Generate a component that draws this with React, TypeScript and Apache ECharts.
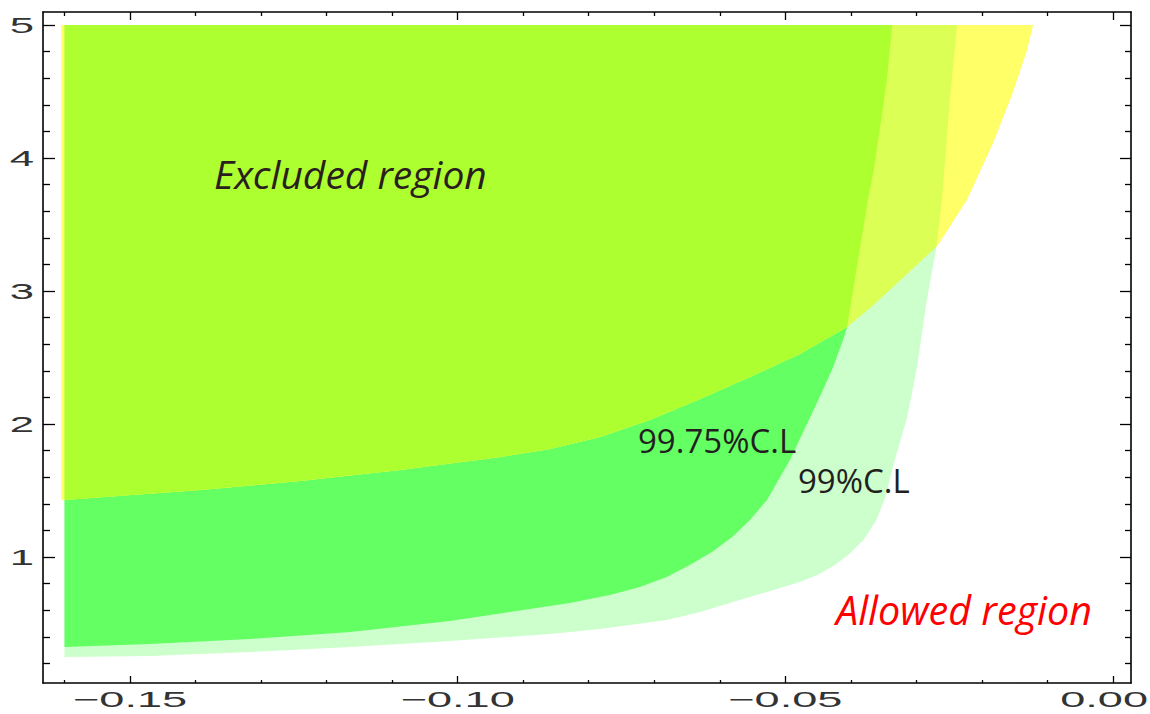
import React, { useEffect, useRef } from "react";
import * as echarts from "echarts";

// axis extents
const X_MIN = -0.16328;
const X_MAX = 0.00275;
const Y_MIN = 0.0526;
const Y_MAX = 5.098;

// ticks
const X_MAJOR = [-0.15, -0.1, -0.05, 0];
const X_TICK_LABELS = ["\u22120.15", "\u22120.10", "\u22120.05", "0.00"];
const X_MINOR = [-0.16, -0.14, -0.13, -0.12, -0.11, -0.09, -0.08, -0.07, -0.06, -0.04, -0.03, -0.02, -0.01];
const Y_MAJOR = [1, 2, 3, 4, 5];
const Y_TICK_LABELS = ["1", "2", "3", "4", "5"];
const Y_MINOR = [0.2, 0.4, 0.6, 0.8, 1.2, 1.4, 1.6, 1.8, 2.2, 2.4, 2.6, 2.8, 3.2, 3.4, 3.6, 3.8, 4.2, 4.4, 4.6, 4.8];

// yellow region: lower boundary (left to right)
const YEL_X = [-0.1605, -0.1393, -0.1241, -0.1088, -0.0935, -0.0859, -0.0783, -0.0707, -0.063, -0.0554, -0.0478, -0.0406, -0.0371, -0.0336, -0.0267, -0.0223, -0.0183, -0.0153, -0.0131, -0.0122];
const YEL_Y = [1.429, 1.504, 1.571, 1.654, 1.752, 1.812, 1.902, 2.03, 2.188, 2.353, 2.526, 2.729, 2.872, 3.03, 3.346, 3.684, 4.113, 4.489, 4.812, 5.0];

// 99.75% C.L. green region boundary (top to bottom-left)
const G9975_X = [-0.0337, -0.0345, -0.0356, -0.0365, -0.0374, -0.0389, -0.0406, -0.0412, -0.0427, -0.0444, -0.0462, -0.0493, -0.0528, -0.0554, -0.0581, -0.0612, -0.0646, -0.0681, -0.0722, -0.0768, -0.0829, -0.089, -0.1012, -0.1164, -0.1317, -0.147, -0.16];
const G9975_Y = [5.0, 4.587, 4.211, 3.91, 3.684, 3.233, 2.722, 2.632, 2.429, 2.241, 2.053, 1.729, 1.429, 1.278, 1.150, 1.038, 0.940, 0.850, 0.774, 0.714, 0.654, 0.609, 0.519, 0.436, 0.384, 0.346, 0.323];

// 99% C.L. green region boundary (top to bottom-left)
const G99_X = [-0.0238, -0.0249, -0.0255, -0.0261, -0.027, -0.0275, -0.0284, -0.0299, -0.0314, -0.0336, -0.0346, -0.0361, -0.0381, -0.0404, -0.0427, -0.0451, -0.0478, -0.0528, -0.058, -0.063, -0.0681, -0.0783, -0.0859, -0.1012, -0.1164, -0.1317, -0.147, -0.16];
const G99_Y = [5.0, 4.436, 4.06, 3.684, 3.308, 3.18, 2.932, 2.429, 2.053, 1.677, 1.466, 1.278, 1.128, 1.015, 0.932, 0.865, 0.812, 0.737, 0.662, 0.586, 0.526, 0.459, 0.421, 0.368, 0.323, 0.286, 0.256, 0.248];

const REGION_LEFT = -0.16;
const REGION_TOP = 5.0;

type Pt = [number, number];
const zip = (xs: number[], ys: number[]): Pt[] => xs.map((x, i) => [x, ys[i]] as Pt);

function segInt(a: Pt, b: Pt, c: Pt, d: Pt): Pt | null {
  const den = (b[0] - a[0]) * (d[1] - c[1]) - (b[1] - a[1]) * (d[0] - c[0]);
  if (den === 0) return null;
  const t = ((c[0] - a[0]) * (d[1] - c[1]) - (c[1] - a[1]) * (d[0] - c[0])) / den;
  const u = ((c[0] - a[0]) * (b[1] - a[1]) - (c[1] - a[1]) * (b[0] - a[0])) / den;
  if (t >= 0 && t <= 1 && u >= 0 && u <= 1) return [a[0] + t * (b[0] - a[0]), a[1] + t * (b[1] - a[1])];
  return null;
}

// polygon of (yellow ∩ green)
function overlap(g: Pt[], y: Pt[]): Pt[] {
  for (let i = 0; i < g.length - 1; i++) {
    for (let j = 0; j < y.length - 1; j++) {
      const p = segInt(g[i], g[i + 1], y[j], y[j + 1]);
      if (p) {
        const pts: Pt[] = [[REGION_LEFT, REGION_TOP]];
        for (let k = 0; k <= i; k++) pts.push(g[k]);
        pts.push(p);
        for (let k = j; k >= 1; k--) pts.push(y[k]);
        pts.push([REGION_LEFT, y[0][1]]);
        return pts;
      }
    }
  }
  return [];
}

export default function App() {
  const ref = useRef<HTMLDivElement>(null);
  useEffect(() => {
    if (!ref.current) return;
    const chart = echarts.init(ref.current, null, { renderer: "svg" });
    const yel = zip(YEL_X, YEL_Y);
    const g1 = zip(G9975_X, G9975_Y);
    const g2 = zip(G99_X, G99_Y);
    const zones = [
      { pts: [...g2, [REGION_LEFT, REGION_TOP] as Pt], color: "#ccffcc" },
      { pts: [...g1, [REGION_LEFT, REGION_TOP] as Pt], color: "#63ff63" },
      { pts: [[yel[0][0], REGION_TOP] as Pt, ...yel], color: "#ffff68" },
      { pts: overlap(g2, yel), color: "#dcff55" },
      { pts: overlap(g1, yel), color: "#aeff30" },
    ];

    const gridRect = { left: 43, right: 19, top: 12, bottom: 31 };
    const lineStyle = { color: "#000", width: 1.6 };
    const tickStyle = { color: "#000", width: 1.3 };
    const xAx = (gridIndex: number, position: string, showLine: boolean, values: number[], len: number) => ({
      type: "value", gridIndex, position, min: X_MIN, max: X_MAX,
      axisLine: { show: showLine, onZero: false, lineStyle },
      axisTick: { show: true, inside: true, length: len, customValues: values, lineStyle: tickStyle },
      axisLabel: { show: false }, splitLine: { show: false },
    });
    const yAx = (gridIndex: number, position: string, showLine: boolean, values: number[], len: number) => ({
      type: "value", gridIndex, position, min: Y_MIN, max: Y_MAX,
      axisLine: { show: showLine, onZero: false, lineStyle },
      axisTick: { show: true, inside: true, length: len, customValues: values, lineStyle: tickStyle },
      axisLabel: { show: false }, splitLine: { show: false },
    });

    chart.setOption({
      animation: false,
      backgroundColor: "#ffffff",
      grid: [{ ...gridRect }, { ...gridRect }],
      xAxis: [
        xAx(0, "bottom", true, X_MAJOR, 7),
        xAx(0, "top", true, X_MAJOR, 8),
        xAx(1, "bottom", false, X_MINOR, 3),
        xAx(1, "top", false, X_MINOR, 4),
      ],
      yAxis: [
        yAx(0, "left", true, Y_MAJOR, 12),
        yAx(0, "right", true, Y_MAJOR, 11),
        yAx(1, "left", false, Y_MINOR, 7),
        yAx(1, "right", false, Y_MINOR, 6),
      ],
      series: [
        {
          type: "custom",
          coordinateSystem: "cartesian2d",
          xAxisIndex: 0,
          yAxisIndex: 0,
          clip: true,
          data: zones.map((z) => [z.pts[0][0], z.pts[0][1]]),
          renderItem: (params: any, api: any) => {
            const z = zones[params.dataIndex];
            return {
              type: "polygon",
              shape: { points: z.pts.map((p) => api.coord(p)) },
              style: { fill: z.color, stroke: null },
            };
          },
        },
      ],
    });

    const labelStyle = { fill: "#333333", fontSize: 22, fontFamily: "Liberation Sans, Arial, sans-serif" };
    const elements: any[] = [];
    X_MAJOR.forEach((v, i) => {
      const px = chart.convertToPixel({ xAxisIndex: 0 } as any, v) as number;
      const last = i === X_MAJOR.length - 1;
      elements.push({
        type: "text", x: last ? 1148 : px, y: 700, scaleX: 2.05, z: 100,
        style: {
          ...labelStyle, text: X_TICK_LABELS[i],
          align: last ? "right" : "center", textAlign: last ? "right" : "center",
          verticalAlign: "middle", textVerticalAlign: "middle",
        },
      });
    });
    Y_MAJOR.forEach((v, i) => {
      const py = chart.convertToPixel({ yAxisIndex: 0 } as any, v) as number;
      elements.push({
        type: "text", x: 34, y: py, scaleX: 1.9, z: 100,
        style: { ...labelStyle, fontSize: 23, text: Y_TICK_LABELS[i], align: "right", textAlign: "right", verticalAlign: "middle", textVerticalAlign: "middle" },
      });
    });
    const ann = (text: string, x: number, y: number, size: number, color: string, italic: boolean) => ({
      type: "text", x, y, z: 100,
      style: {
        text, fill: color, fontSize: size, fontFamily: "Open Sans, Noto Sans, sans-serif",
        fontStyle: italic ? "italic" : "normal", align: "left", textAlign: "left",
        verticalAlign: "middle", textVerticalAlign: "middle",
      },
    });
    elements.push(ann("Excluded region", 214, 173, 39, "#2b1e1e", true));
    elements.push(ann("99.75%C.L", 638, 440, 33, "#231f20", false));
    elements.push(ann("99%C.L", 798, 480, 33, "#231f20", false));
    elements.push(ann("Allowed region", 836, 610, 39.5, "#ff0000", true));
    chart.setOption({ graphic: { elements } });

    return () => chart.dispose();
  }, []);
  return <div ref={ref} style={{ position: "fixed", left: 0, top: 0, width: 1150, height: 714 }} />;
}
